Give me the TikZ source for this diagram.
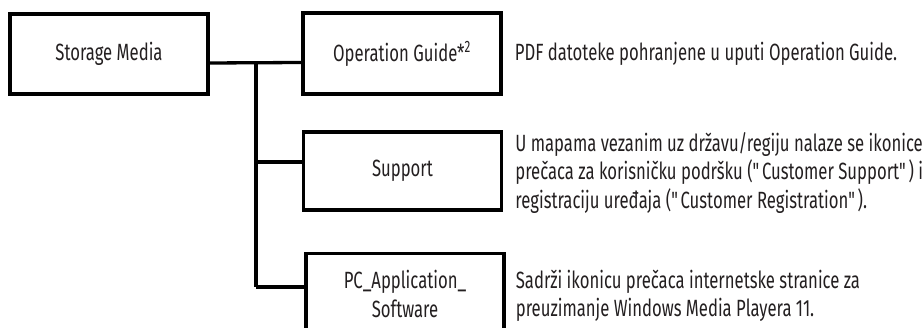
\documentclass[tikz,border=0pt]{standalone}
\usepackage{fontspec}
\setmainfont{Fira Sans}[FakeStretch=0.71]
\usepackage{tikz}
\usetikzlibrary{positioning}
\definecolor{ink}{HTML}{231F20}
\tikzstyle{box} = [rectangle, minimum width=198pt, minimum height=81pt, text centered, draw=black, line width=3.3pt, align=center]
\tikzstyle{note} = [anchor=west, inner sep=0pt, align=left]
\tikzstyle{line} = [line width=3.3pt]

\begin{document}
\begin{tikzpicture}[x=1pt, y=-1pt, node distance=12pt, font=\fontsize{23.5}{28.5}\selectfont, text=ink]
        \useasboundingbox (0,0) rectangle (922,328);

        \node (sm) [box, minimum height=80pt] at (109,54) {Storage Media};
        \node (og) [box] at (402,53.5) {Operation Guide*\textsuperscript{2}};
        \node (sup) [box, minimum height=78pt] at (402.5,171) {Support};
        \node (pc) [box] at (405,294) {PC\_Application\_\\Software};

        \node (d1) [note, right=12pt of og] {PDF datoteke pohranjene u uputi Operation Guide.};
        \node (d2) [note, right=12pt of sup, yshift=-2pt] {U mapama vezanim uz državu/regiju nalaze se ikonice\\prečaca za korisničku podršku (\textquotedbl Customer Support\textquotedbl) i\\registraciju uređaja (\textquotedbl Customer Registration\textquotedbl).};
        \node (d3) [note, right=10pt of pc, yshift=-2pt] {Sadrži ikonicu prečaca internetske stranice za\\preuzimanje Windows Media Playera 11.};

        \coordinate (top) at (256,63);
        \coordinate (bot) at (256,287);

        \draw [line] ([yshift=-9pt]sm.east) -- ([yshift=-9pt]og.west);
        \draw [line] (top) -- (bot);
        \draw [line] ([yshift=9pt]sup.west -| top) -- ([yshift=9pt]sup.west);
        \draw [line] (bot) -- ([yshift=7pt]pc.west);

    \end{tikzpicture}
\end{document}
